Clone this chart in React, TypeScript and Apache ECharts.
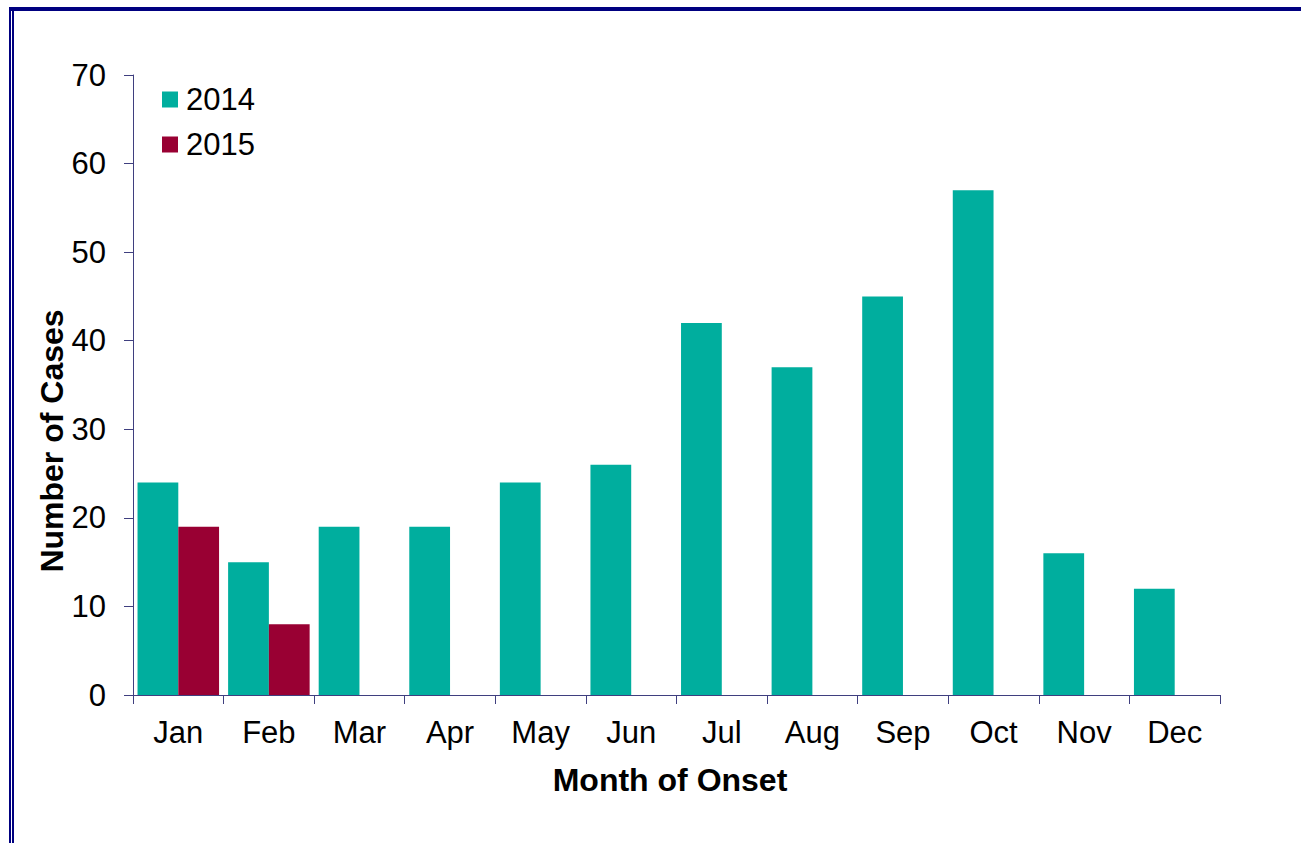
import React, { useEffect, useRef } from "react";
import * as echarts from "echarts";

const months = ["Jan", "Feb", "Mar", "Apr", "May", "Jun", "Jul", "Aug", "Sep", "Oct", "Nov", "Dec"];
const cases2014 = [24, 15, 19, 19, 24, 26, 42, 37, 45, 57, 16, 12];
const cases2015: (number | null)[] = [19, 8, null, null, null, null, null, null, null, null, null, null];
const yTicks = { min: 0, max: 70, interval: 10 };

const FONT = "'Liberation Sans', Arial, sans-serif";
const AXIS_COLOR = "#3f3f7f";
const NAVY = "#000080";

export default function App() {
  const ref = useRef<HTMLDivElement>(null);
  useEffect(() => {
    if (!ref.current) return;
    const chart = echarts.init(ref.current, null, { renderer: "svg" });
    chart.setOption({
      animation: false,
      backgroundColor: "#ffffff",
      textStyle: { fontFamily: FONT },
      grid: { left: 133, top: 75, right: 81, bottom: 148, containLabel: false },
      legend: {
        orient: "vertical",
        left: 162,
        top: 84,
        padding: 0,
        itemWidth: 16,
        itemHeight: 16,
        itemGap: 14,
        icon: "rect",
        textStyle: { fontSize: 31, color: "#000", fontFamily: FONT, lineHeight: 31, padding: [0, 0, 0, 3] },
        data: ["2014", "2015"],
      },
      xAxis: {
        type: "category",
        data: months,
        axisLine: { lineStyle: { color: AXIS_COLOR, width: 1 } },
        axisTick: { show: true, alignWithLabel: false, length: 9, lineStyle: { color: AXIS_COLOR } },
        axisLabel: { fontSize: 31, color: "#000", margin: 22, fontFamily: FONT },
      },
      yAxis: {
        type: "value",
        min: yTicks.min,
        max: yTicks.max,
        interval: yTicks.interval,
        splitLine: { show: false },
        axisLine: { show: true, lineStyle: { color: AXIS_COLOR, width: 1 } },
        axisTick: { show: true, length: 9, lineStyle: { color: AXIS_COLOR } },
        axisLabel: { fontSize: 31, color: "#000", margin: 27, fontFamily: FONT },
      },
      series: [
        {
          name: "2014",
          type: "bar",
          data: cases2014,
          itemStyle: { color: "#00ae9e" },
          barGap: "0%",
          barCategoryGap: "10%",
        },
        {
          name: "2015",
          type: "bar",
          data: cases2015,
          itemStyle: { color: "#990033" },
          barGap: "0%",
          barCategoryGap: "10%",
        },
      ],
      graphic: [
        { type: "rect", shape: { x: 9, y: 7, width: 1292, height: 4 }, style: { fill: NAVY } },
        { type: "rect", shape: { x: 9, y: 7, width: 2, height: 836 }, style: { fill: NAVY } },
        { type: "rect", shape: { x: 12, y: 11, width: 2, height: 832 }, style: { fill: NAVY } },
        {
          type: "text",
          x: 52,
          y: 441,
          rotation: Math.PI / 2,
          style: {
            text: "Number of Cases",
            font: `bold 32px ${FONT}`,
            fill: "#000",
            textAlign: "center",
            textVerticalAlign: "middle",
          },
        },
        {
          type: "text",
          x: 670,
          y: 780,
          style: {
            text: "Month of Onset",
            font: `bold 32px ${FONT}`,
            fill: "#000",
            textAlign: "center",
            textVerticalAlign: "middle",
          },
        },
      ],
    });
    return () => chart.dispose();
  }, []);
  return (
    <div
      ref={ref}
      style={{ position: "fixed", left: 0, top: 0, width: 1301, height: 843, background: "#fff" }}
    />
  );
}
